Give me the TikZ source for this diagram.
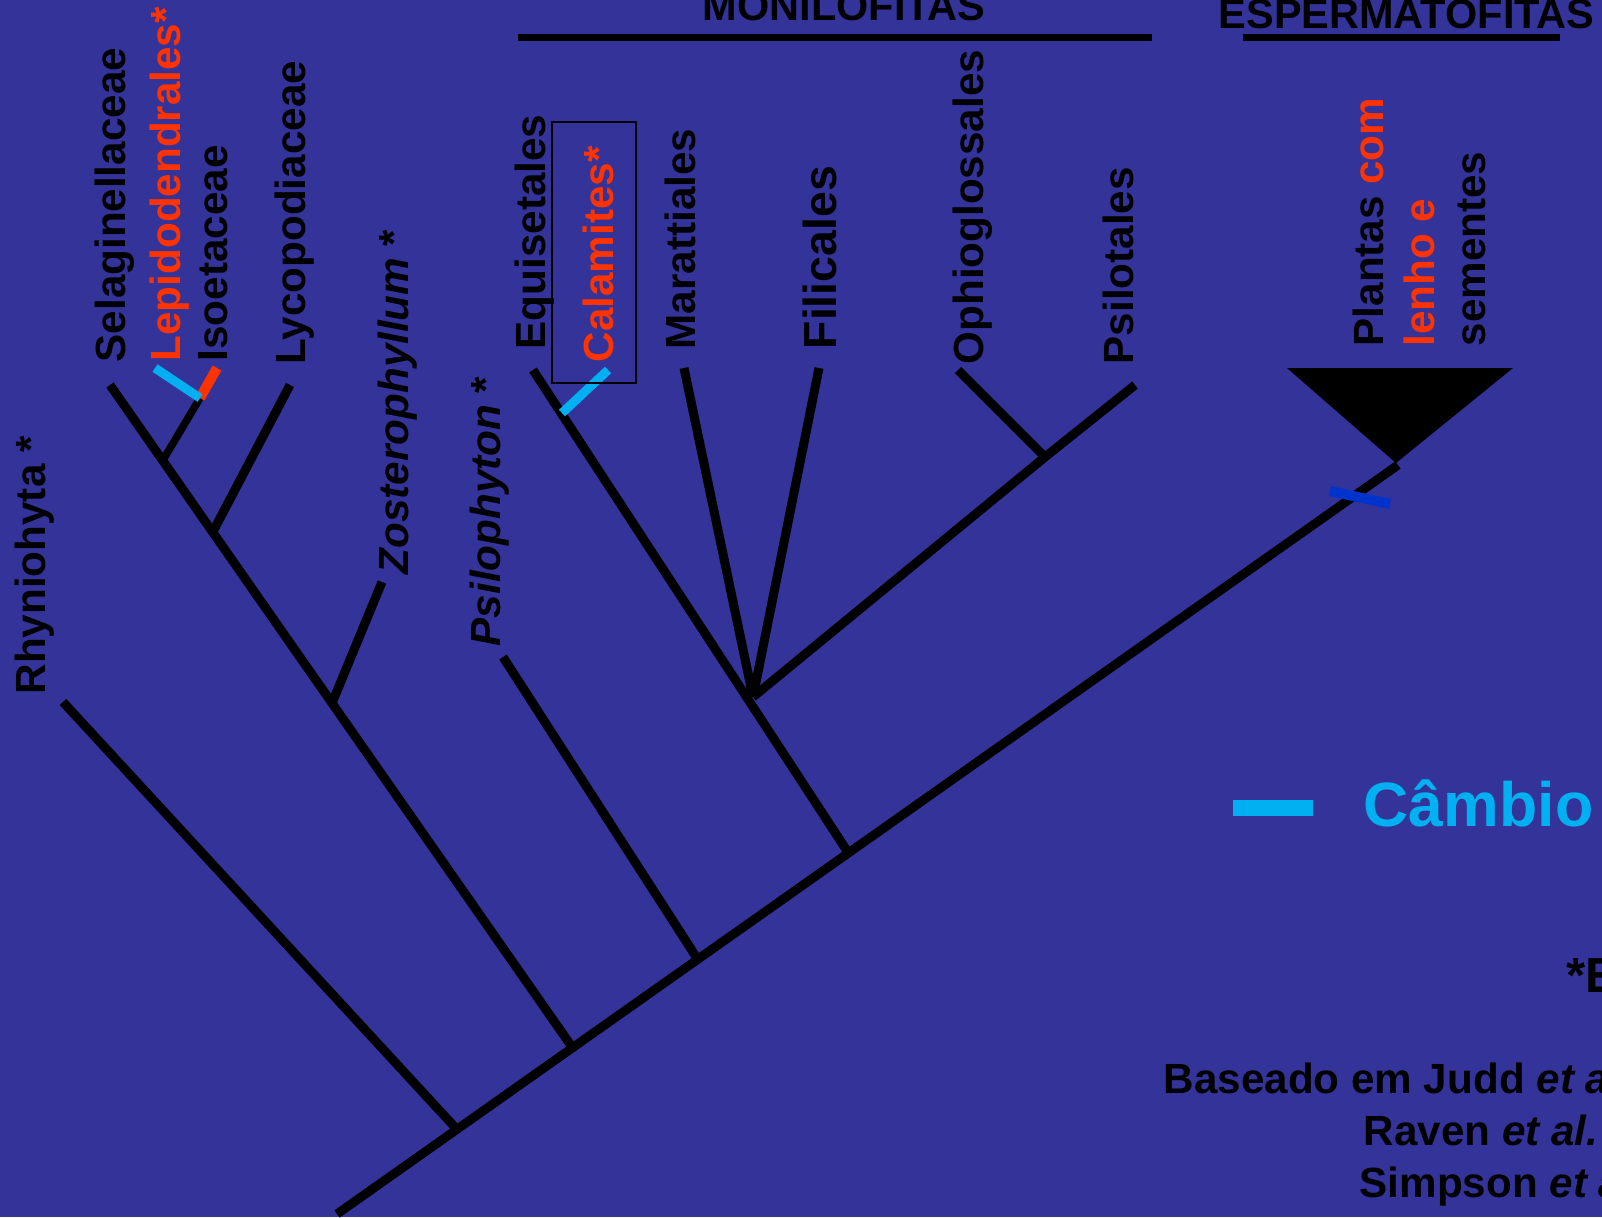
\documentclass[tikz,border=0pt]{standalone}
\usepackage{fontspec}
\setmainfont{Liberation Sans}
\usepackage{tikz}
\usetikzlibrary{calc}
\definecolor{slideblue}{HTML}{333399}
\definecolor{fossilred}{HTML}{FF3300}
\definecolor{cambiumcyan}{HTML}{00B0F0}
\definecolor{seedblue}{HTML}{0033CC}

\begin{document}
\begin{tikzpicture}[
    x=0.01cm, y=-0.01cm,
    taxon/.style={rotate=90, anchor=base west, inner sep=0pt, text=#1,
                 font=\fontsize{12}{14.5}\selectfont\bfseries},
    taxon/.default=black,
    branch/.style={line width=0.09cm},
    tick/.style={line width=0.09cm, draw=#1},
    group/.style={anchor=base west, inner sep=0pt,
                 font=\fontsize{11.8}{14}\selectfont\bfseries},
    note/.style={anchor=base west, inner sep=0pt,
                 font=\fontsize{12}{14}\selectfont\bfseries}
]

% Background
\useasboundingbox (0,0) rectangle (1602,1217);
\clip (0,0) rectangle (1602,1217);
\fill[slideblue] (0,0) rectangle (1602,1217);

% Backbone
\coordinate (root) at (337,1214);
\coordinate (top) at (1398,465);
\coordinate (nA) at ($(root)!0.113!(top)$);
\coordinate (nB) at ($(root)!0.222!(top)$);
\coordinate (nC) at ($(root)!0.340!(top)$);
\coordinate (nD) at ($(root)!0.482!(top)$);

% Lycophytes
\coordinate (rhy-t) at (63,702);
\coordinate (sel-t) at (110,385);
\coordinate (nZ) at ($(nB)!0.520!(sel-t)$);
\coordinate (nLyc) at ($(nB)!0.778!(sel-t)$);
\coordinate (nIso) at ($(nB)!0.886!(sel-t)$);
\coordinate (zos-t) at (382,582);
\coordinate (lyc-t) at (290,385);
\coordinate (iso-t) at (200,398);
\coordinate (iso-red) at (217,368);
\coordinate (lep-cy) at (155,368);

% Monilophytes
\coordinate (psi-t) at (503,657);
\coordinate (equ-t) at (533,370);
\coordinate (cal-a) at (562,413);
\coordinate (cal-b) at (608,370);
\coordinate (nP) at (753,697);
\coordinate (mar-t) at (684,368);
\coordinate (fil-t) at (819,368);
\coordinate (nO) at (1045,457);
\coordinate (oph-t) at (958,370);
\coordinate (pst-t) at (1135,385);

% Seed plants
\coordinate (seed-a) at (1330,491);
\coordinate (seed-b) at (1390,504);

% Branches
\draw[branch] (root) -- (top);
\draw[branch] (nA) -- (rhy-t);
\draw[branch] (nB) -- (sel-t);
\draw[branch] (nZ) -- (zos-t);
\draw[branch] (nLyc) -- (lyc-t);
\draw[branch, line width=0.075cm] (nIso) -- (iso-t);
\draw[branch] (nC) -- (psi-t);
\draw[branch] (nD) -- (equ-t);
\draw[branch] (nP) -- (mar-t);
\draw[branch] (nP) -- (fil-t);
\draw[branch] (nP) -- (nO);
\draw[branch] (nO) -- (oph-t);
\draw[branch] (nO) -- (pst-t);
\fill (1287,368) -- (1513,368) -- (1396,463) -- cycle;

% Marks
\draw[tick=fossilred, line width=0.1cm] (iso-t) -- (iso-red);
\draw[tick=cambiumcyan] (iso-t) -- (lep-cy);
\draw[tick=cambiumcyan] (cal-a) -- (cal-b);
\draw[tick=seedblue, line width=0.1cm] (seed-a) -- (seed-b);
\draw[line width=0.5pt] (552,122) rectangle (636,383);

% Taxa
\node[taxon] at (45,695) (rhy) {Rhyniohyta *};
\node[taxon] at (125,363) (sel) {Selaginellaceae};
\node[taxon=fossilred] at (180,362) (lep) {Lepidodendrales*};
\node[taxon] at (227,362) (iso) {Isoetaceae};
\node[taxon] at (305,365) (lyc) {Lycopodiaceae};
\node[taxon] at (408,575) (zos) {\textit{Zosterophyllum} *};
\node[taxon] at (500,647) (psi) {\textit{Psilophyton} *};
\node[taxon] at (545,350) (equ) {Equisetales};
\node[taxon=fossilred] at (613,363) (cal) {Calamites*};
\node[taxon] at (695,350) (mar) {Marattiales};
\node[taxon, font=\fontsize{13.2}{15}\selectfont\bfseries] at (836,350) (fil) {Filicales};
\node[taxon] at (983,365) (oph) {Ophioglossales};
\node[taxon] at (1133,365) (pst) {Psilotales};
\node[taxon, anchor=south west, align=left] at (1487,347) (seed)
    {Plantas \textcolor{fossilred}{com}\\\textcolor{fossilred}{lenho e}\\sementes};

% Groups
\draw[line width=0.07cm] (518,37) -- (1152,37);
\draw[line width=0.07cm] (1243,37) -- (1560,37);
\node[group] at (702,20) (moni) {MONILOFITAS};
\node[group] at (1218,28) (sperm) {ESPERMATOFITAS};

% Legend
\coordinate (leg-a) at (1233,808);
\coordinate (leg-b) at (1313,808);
\draw[cambiumcyan, line width=0.16cm] (leg-a) -- (leg-b);
\node[note, text=cambiumcyan, font=\fontsize{17.8}{21}\selectfont\bfseries] at (1363,826) (camb) {Câmbio};
\node[note, font=\fontsize{14}{16}\selectfont\bfseries] at (1566,992) (ext) {*Extintas};

% Sources
\node[note] at (1163,1093) (src1) {Baseado em Judd \textit{et al.}};
\node[note] at (1363,1145) (src2) {Raven \textit{et al.}};
\node[note] at (1359,1197) (src3) {Simpson \textit{et al.}};

\end{tikzpicture}
\end{document}
